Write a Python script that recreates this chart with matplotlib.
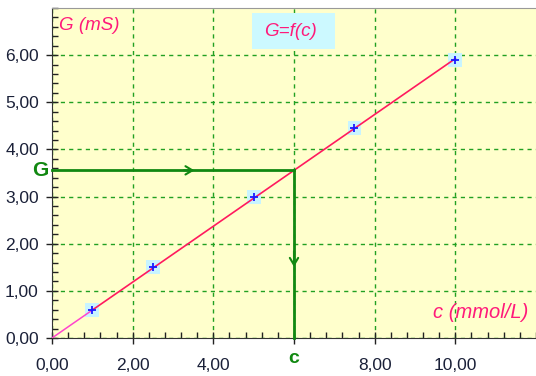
import numpy as np
import matplotlib
matplotlib.use("Agg")
import matplotlib.pyplot as plt
from matplotlib.patches import Rectangle
from matplotlib.ticker import MultipleLocator, FuncFormatter

# mesures : concentration (mmol/L) et conductance (mS)
conc = [1.0, 2.5, 5.0, 7.5, 10.0]
cond = [0.60, 1.50, 3.00, 4.45, 5.90]
c_lu = 6.0
x_ticks = [0, 2, 4, 6, 8, 10]
x_labels = ["0,00", "2,00", "4,00", "", "8,00", "10,00"]
y_ticks = [0, 1, 2, 3, 4, 5, 6]

plt.rcParams["font.family"] = ["Liberation Sans", "DejaVu Sans"]

# droite passant par l'origine (moindres carrés)
x = np.array(conc)
y = np.array(cond)
k = (x * y).sum() / (x * x).sum()
g_lu = k * c_lu

fig = plt.figure(figsize=(5.36, 3.76), dpi=100)
ax = fig.add_axes([52 / 536, 38 / 376, 484 / 536, 330 / 376])
ax.set_facecolor("#ffffcc")
ax.set_xlim(0, 12)
ax.set_ylim(0, 7)

ax.set_xticks(x_ticks)
ax.set_xticklabels(x_labels)
ax.set_yticks(y_ticks)
ax.yaxis.set_major_formatter(FuncFormatter(lambda v, p: f"{v:.2f}".replace(".", ",")))
ax.xaxis.set_minor_locator(MultipleLocator(0.4))
ax.yaxis.set_minor_locator(MultipleLocator(0.2))
ax.tick_params(which="major", direction="inout", length=9, width=1, colors="#222222",
               labelcolor="#1a2038", labelsize=12.5)
ax.tick_params(which="minor", direction="in", length=4, width=1, colors="#222222")
ax.tick_params(axis="x", which="major", pad=10)
ax.tick_params(axis="y", which="major", pad=5)

ax.grid(True, which="major", color="#22a022", linestyle=(0, (3, 3)), linewidth=1)
ax.spines["right"].set_visible(False)
ax.spines["top"].set_color("#999999")
ax.spines["left"].set_color("#333333")
ax.spines["bottom"].set_color("#333333")

# droite d'étalonnage
ax.plot([0, conc[0]], [0, k * conc[0]], color="#ff44cc", lw=1.1, zorder=3)
ax.plot([conc[0], conc[-1]], [k * conc[0], k * conc[-1]], color="#ff1a5e", lw=1.2, zorder=3)

# points de mesure
ax.scatter(conc, cond, marker="s", s=100, color="#c8f4ff", edgecolors="none", zorder=2)
ax.scatter(conc, cond, marker="+", s=40, color="#1a1aff", linewidths=1.3, zorder=4)

# lecture graphique
green = "#118811"
ax.plot([0, c_lu], [g_lu, g_lu], color=green, lw=2, zorder=5, clip_on=False)
ax.plot([c_lu, c_lu], [g_lu, 0], color=green, lw=2, zorder=5, clip_on=False)
ax.annotate("", xy=(3.6, g_lu), xytext=(3.2, g_lu),
            arrowprops=dict(arrowstyle="->,head_length=0.5,head_width=0.3", color=green, lw=1.5),
            zorder=6)
ax.annotate("", xy=(c_lu, 1.45), xytext=(c_lu, 1.9),
            arrowprops=dict(arrowstyle="->,head_length=0.5,head_width=0.3", color=green, lw=1.5),
            zorder=6)
ax.text(-0.1, g_lu, "G", color=green, fontsize=15, fontweight="bold",
        ha="right", va="center")
ax.text(c_lu, -0.25, "c", color=green, fontsize=14, fontweight="bold",
        ha="center", va="top")

# textes
pink = "#ff1a7a"
ax.text(0.17, 6.62, "G (mS)", color=pink, fontsize=13.5, style="italic", va="center")
ax.add_patch(Rectangle((200 / 484, 289 / 330), 83 / 484, 36 / 330, transform=ax.transAxes,
                       facecolor="#ccf9ff", edgecolor="none", zorder=2))
ax.text(238 / 484, 0.93, "G=f(c)", color=pink, fontsize=13.5, style="italic",
        ha="center", va="center", zorder=3, transform=ax.transAxes)
ax.text(11.8, 0.55, "c (mmol/L)", color=pink, fontsize=14.5, style="italic", ha="right", va="center")

fig.savefig("out.png", dpi=100)
